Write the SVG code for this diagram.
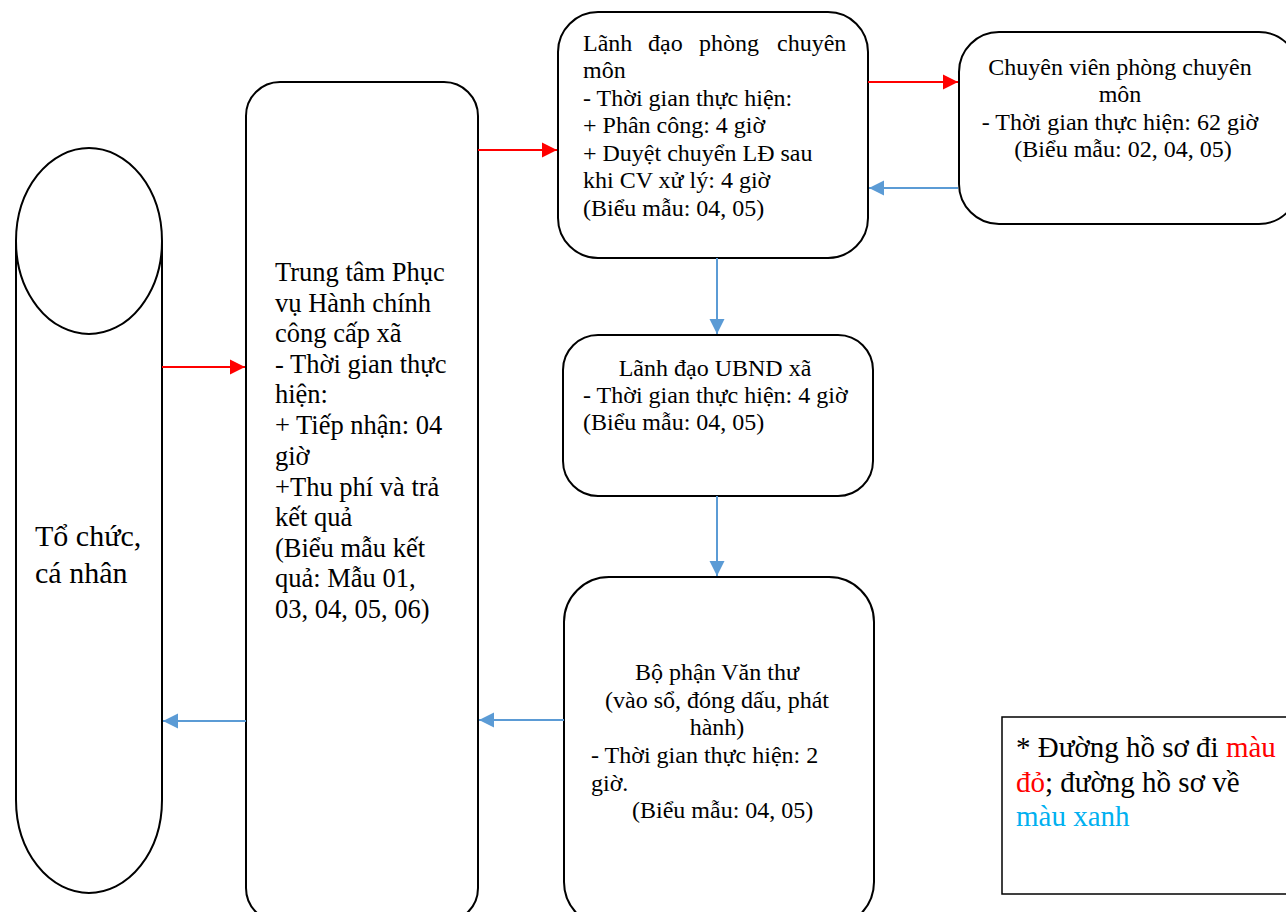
<svg xmlns="http://www.w3.org/2000/svg" width="1286" height="912" viewBox="0 0 1286 912">
<style>
.box{fill:#fff;stroke:#000;stroke-width:2}
.t{font-family:"Liberation Serif","Times New Roman",serif;fill:#000}
.f20{font-size:24px}
.f22{font-size:26.5px}
.f24{font-size:29px}
.f30{font-size:30px}
.red{stroke:#FF0000;stroke-width:2;fill:none}
.blue{stroke:#5B9BD5;stroke-width:2;fill:none}
</style>
<defs>
<marker id="ar" markerUnits="userSpaceOnUse" markerWidth="17" markerHeight="17" refX="15" refY="8.5" orient="auto">
<path d="M0,1 L15,8.5 L0,16 Z" fill="#FF0000"/>
</marker>
<marker id="ab" markerUnits="userSpaceOnUse" markerWidth="17" markerHeight="17" refX="15" refY="8.5" orient="auto">
<path d="M0,1 L15,8.5 L0,16 Z" fill="#5B9BD5"/>
</marker>
</defs>
<rect width="1286" height="912" fill="#fff"/>

<g id="to-chuc">
<path class="box" d="M16,241 L16,800 A73,93 0 0 0 162,800 L162,241"/>
<ellipse class="box" cx="89" cy="241" rx="73" ry="93"/>
<text class="t f30" x="35" y="546">Tổ chức,</text>
<text class="t f30" x="35" y="583">cá nhân</text>
</g>

<g id="trung-tam">
<rect class="box" x="246" y="82" width="232" height="840" rx="34"/>
<text class="t f22">
<tspan x="275" y="281">Trung tâm Phục</tspan>
<tspan x="275" y="312">vụ Hành chính</tspan>
<tspan x="275" y="342">công cấp xã</tspan>
<tspan x="275" y="373">- Thời gian thực</tspan>
<tspan x="275" y="403">hiện:</tspan>
<tspan x="275" y="434">+ Tiếp nhận: 04</tspan>
<tspan x="275" y="465">giờ</tspan>
<tspan x="275" y="496">+Thu phí và trả</tspan>
<tspan x="275" y="526">kết quả</tspan>
<tspan x="275" y="557">(Biểu mẫu kết</tspan>
<tspan x="275" y="587">quả: Mẫu 01,</tspan>
<tspan x="275" y="618">03, 04, 05, 06)</tspan>
</text>
</g>

<g id="lanh-dao-phong">
<rect class="box" x="558" y="12" width="310" height="246" rx="40"/>
<text class="t f20">
<tspan x="583" y="51">Lãnh</tspan><tspan x="648" y="51">đạo</tspan><tspan x="699" y="51">phòng</tspan><tspan x="777" y="51">chuyên</tspan>
<tspan x="583" y="78">môn</tspan>
<tspan x="583" y="106">- Thời gian thực hiện:</tspan>
<tspan x="583" y="133">+ Phân công: 4 giờ</tspan>
<tspan x="583" y="161">+ Duyệt chuyển LĐ sau</tspan>
<tspan x="583" y="188">khi CV xử lý: 4 giờ</tspan>
<tspan x="583" y="216">(Biểu mẫu: 04, 05)</tspan>
</text>
</g>

<g id="chuyen-vien">
<rect class="box" x="959" y="32" width="340" height="192" rx="40"/>
<text class="t f20" text-anchor="middle">
<tspan x="1123" y="75">Chuyên viên phòng chuyên</tspan>
<tspan x="1123" y="102">môn</tspan>
<tspan x="1123" y="130">- Thời gian thực hiện: 62 giờ</tspan>
<tspan x="1123" y="157">(Biểu mẫu: 02, 04, 05)</tspan>
</text>
</g>

<g id="ubnd">
<rect class="box" x="563" y="335" width="310" height="161" rx="35"/>
<text class="t f20">
<tspan x="718" y="376" text-anchor="middle">Lãnh đạo UBND xã</tspan>
<tspan x="583" y="403">- Thời gian thực hiện: 4 giờ</tspan>
<tspan x="583" y="430">(Biểu mẫu: 04, 05)</tspan>
</text>
</g>

<g id="van-thu">
<rect class="box" x="564" y="577" width="310" height="350" rx="45"/>
<text class="t f20">
<tspan x="720" y="680" text-anchor="middle">Bộ phận Văn thư</tspan>
<tspan x="720" y="708" text-anchor="middle">(vào sổ, đóng dấu, phát</tspan>
<tspan x="720" y="735" text-anchor="middle">hành)</tspan>
<tspan x="591" y="763">- Thời gian thực hiện: 2</tspan>
<tspan x="591" y="791">giờ.</tspan>
<tspan x="632" y="818">(Biểu mẫu: 04, 05)</tspan>
</text>
</g>

<g id="chu-thich">
<rect x="1002" y="717" width="300" height="177" fill="#fff" stroke="#000" stroke-width="1.5"/>
<text class="t f24">
<tspan x="1016" y="757">* Đường hồ sơ đi <tspan fill="#FF0000">màu</tspan></tspan>
<tspan x="1016" y="792"><tspan fill="#FF0000">đỏ</tspan>; đường hồ sơ về</tspan>
<tspan x="1016" y="826" fill="#00B0F0">màu xanh</tspan>
</text>
</g>

<g id="connectors">
<line class="red" x1="162" y1="367" x2="245" y2="367" marker-end="url(#ar)"/>
<line class="red" x1="478" y1="150" x2="557" y2="150" marker-end="url(#ar)"/>
<line class="red" x1="868" y1="82" x2="958" y2="82" marker-end="url(#ar)"/>
<line class="blue" x1="958" y1="188" x2="869" y2="188" marker-end="url(#ab)"/>
<line class="blue" x1="717" y1="258" x2="717" y2="334" marker-end="url(#ab)"/>
<line class="blue" x1="717" y1="496" x2="717" y2="576" marker-end="url(#ab)"/>
<line class="blue" x1="564" y1="720" x2="479" y2="720" marker-end="url(#ab)"/>
<line class="blue" x1="246" y1="721" x2="163" y2="721" marker-end="url(#ab)"/>
</g>
</svg>
